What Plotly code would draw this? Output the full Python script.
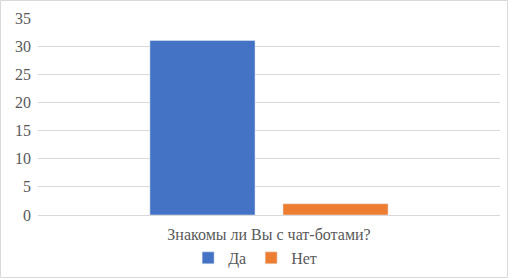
import plotly.graph_objects as go

categories = ["Знакомы ли Вы с чат-ботами?"]
series_names = ["Да", "Нет"]
yes_values = [31]
no_values = [2]
colors = ["#4472C4", "#ED7D31"]
y_ticks = [0, 5, 10, 15, 20, 25, 30, 35]

W, H = 508, 278
ml, mr, mt, mb = 38, 8, 18, 63

fig = go.Figure()
fig.add_trace(go.Bar(x=categories, y=yes_values, name=series_names[0], marker_color=colors[0]))
fig.add_trace(go.Bar(x=categories, y=no_values, name=series_names[1], marker_color=colors[1]))

pw = W - ml - mr
ph = H - mt - mb
fig.add_shape(type="rect", xref="paper", yref="paper",
              x0=(-ml + 0.5) / pw, x1=(pw + mr - 0.5) / pw,
              y0=(-mb + 0.5) / ph, y1=(ph + mt - 0.5) / ph,
              line=dict(color="#D9D9D9", width=1), layer="below")

FONT = "Liberation Serif, Times New Roman, serif"
fig.update_layout(
    width=W, height=H,
    margin=dict(l=ml, r=mr, t=mt, b=mb, autoexpand=False),
    paper_bgcolor="white", plot_bgcolor="white",
    barmode="group", bargap=0.424, bargroupgap=0.21,
    font=dict(family=FONT, size=16, color="#595959"),
    showlegend=True,
    legend=dict(orientation="h", x=0.47, xanchor="center", y=-0.218, yanchor="middle",
                font=dict(family=FONT, size=16, color="#595959"), itemwidth=30,
                traceorder="normal", tracegroupgap=0),
    xaxis=dict(showline=True, linecolor="#D9D9D9", linewidth=1, ticks="",
               ticklabelstandoff=5,
               tickfont=dict(family=FONT, size=16, color="#595959")),
    yaxis=dict(range=[0, 35], tickvals=y_ticks, showgrid=True, gridcolor="#D9D9D9",
               gridwidth=1, zeroline=False, ticks="", showline=False,
               ticklabelstandoff=6,
               tickfont=dict(family=FONT, size=16, color="#595959")),
)

fig.write_html("out.html", config={"displayModeBar": False},
               post_script="document.body.style.margin='0';document.body.style.overflow='hidden';")
